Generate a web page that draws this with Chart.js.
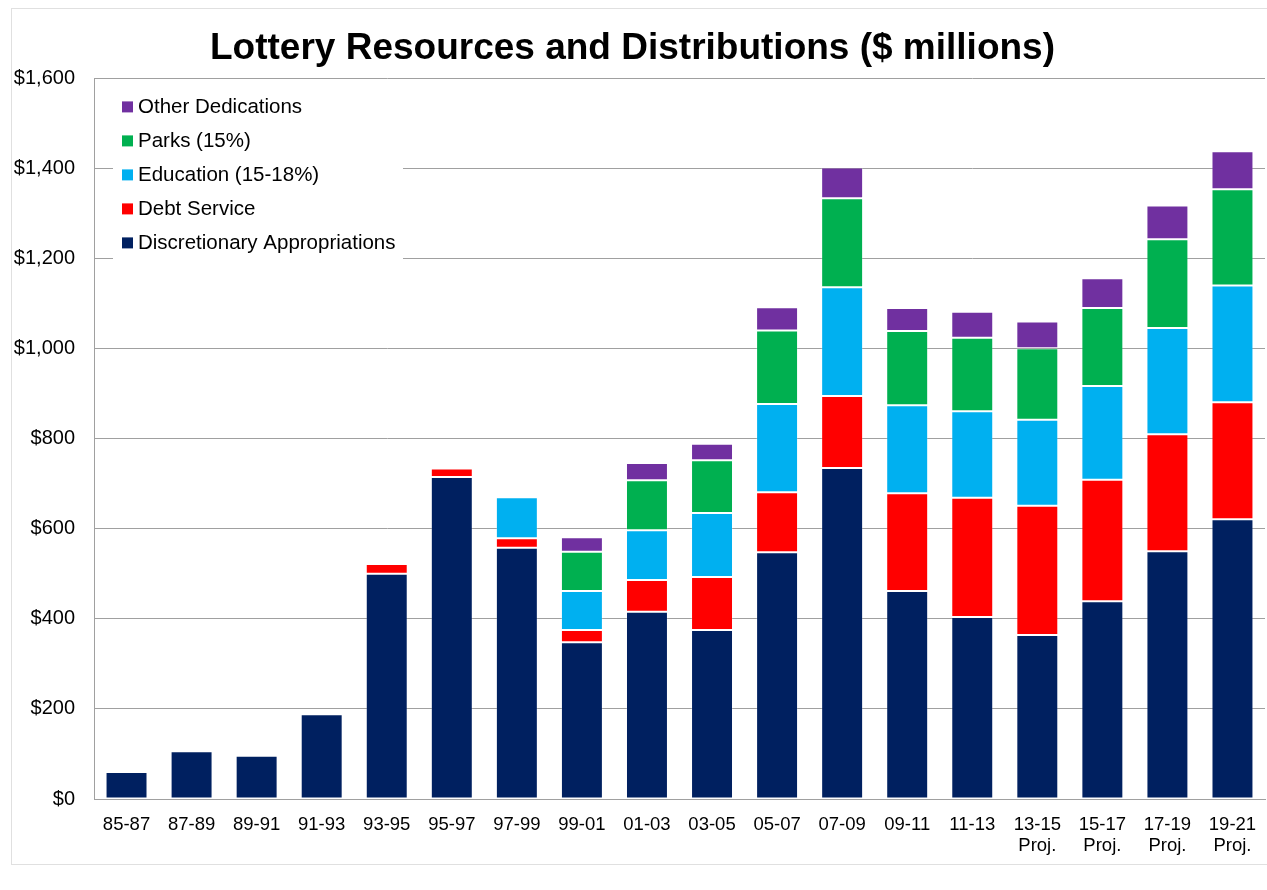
<!DOCTYPE html>
<html>
<head>
<meta charset="utf-8">
<title>Lottery Resources and Distributions</title>
<script src="https://cdn.jsdelivr.net/npm/chart.js@4.4.1/dist/chart.umd.min.js"></script>
<style>
  html, body { margin: 0; padding: 0; background: #fff; }
  #wrap { width: 1267px; height: 890px; position: relative; }
</style>
</head>
<body>
<div id="wrap"><canvas id="grafica" width="1267" height="890"></canvas></div>
<script>
// biennios (los "Proj." van en segunda linea)
const bienios = ['85-87', '87-89', '89-91', '91-93', '93-95', '95-97', '97-99', '99-01', '01-03', '03-05',
  '05-07', '07-09', '09-11', '11-13', ['13-15', 'Proj.'], ['15-17', 'Proj.'], ['17-19', 'Proj.'], ['19-21', 'Proj.']];

// valores en millones
const discrecional = [60, 106, 96, 188, 500, 715, 558, 348, 416, 375, 548, 735, 462, 404, 364, 439, 550, 621];
const deuda        = [0, 0, 0, 0, 22, 19, 21, 27, 70, 118, 133, 160, 217, 265, 287, 270, 260, 260];
const educacion    = [0, 0, 0, 0, 0, 0, 91, 87, 111, 142, 196, 241, 195, 192, 191, 208, 236, 259];
const parques      = [0, 0, 0, 0, 0, 0, 0, 87, 111, 117, 163, 198, 165, 163, 159, 173, 197, 214];
const otras        = [0, 0, 0, 0, 0, 0, 0, 32, 38, 37, 52, 68, 51, 58, 59, 66, 75, 84];

const ticksY = [0, 200, 400, 600, 800, 1000, 1200, 1400, 1600];

const fuente = '"Liberation Sans", Arial, sans-serif';

function serie(label, data, color) {
  return {
    label: label,
    data: data,
    backgroundColor: color,
    borderColor: 'rgba(255,255,255,0.18)',
    borderWidth: 1,
    borderSkipped: false,
    barPercentage: 0.645,
    categoryPercentage: 1.0
  };
}

// marco gris claro del grafico original
const marco = {
  id: 'marco',
  beforeDraw(chart) {
    const ctx = chart.ctx;
    ctx.save();
    ctx.fillStyle = '#fff';
    ctx.fillRect(0, 0, chart.width, chart.height);
    ctx.strokeStyle = '#e0e0e0';
    ctx.lineWidth = 1;
    ctx.strokeRect(11.5, 8.5, 1300, 856);
    ctx.restore();
  }
};

// leyenda dentro del area del grafico, arriba a la izquierda
const leyenda = {
  id: 'leyenda',
  afterDatasetsDraw(chart) {
    const ctx = chart.ctx;
    const area = chart.chartArea;
    const x0 = area.left + 19, y0 = area.top + 9;
    ctx.save();
    ctx.fillStyle = '#fff';
    ctx.fillRect(x0, y0, 290, 176);
    ctx.font = '20.5px ' + fuente;
    ctx.textBaseline = 'middle';
    const sets = chart.data.datasets.slice().reverse();
    sets.forEach((ds, i) => {
      const y = y0 + 19 + i * 34;
      ctx.fillStyle = ds.backgroundColor;
      ctx.fillRect(x0 + 9, y - 5, 11, 11);
      ctx.fillStyle = '#000';
      ctx.fillText(ds.label, x0 + 25, y + 1);
    });
    ctx.restore();
  }
};

const config = {
  type: 'bar',
  data: {
    labels: bienios,
    datasets: [
      serie('Discretionary Appropriations', discrecional, '#002060'),
      serie('Debt Service', deuda, '#ff0000'),
      serie('Education (15-18%)', educacion, '#00b0f0'),
      serie('Parks (15%)', parques, '#00b050'),
      serie('Other Dedications', otras, '#7030a0')
    ]
  },
  options: {
    responsive: false,
    animation: false,
    layout: { padding: { left: 0, right: 2, top: 0, bottom: 0 } },
    plugins: {
      legend: { display: false },
      tooltip: { enabled: false },
      title: {
        display: true,
        text: 'Lottery Resources and Distributions ($ millions)',
        color: '#000',
        font: { family: fuente, size: 37, weight: 'bold' },
        padding: { top: 27, bottom: 7 }
      }
    },
    scales: {
      x: {
        stacked: true,
        grid: { display: false, drawTicks: false },
        border: { color: '#a0a0a0', width: 1 },
        ticks: { color: '#000', font: { family: fuente, size: 18.5, lineHeight: 1.15 }, padding: 15, maxRotation: 0, autoSkip: false },
        afterFit(scale) {
          scale.height = 91;
          scale.paddingLeft = 0;
          scale.paddingRight = 0;
        }
      },
      y: {
        stacked: true,
        min: 0,
        max: 1600,
        afterBuildTicks(scale) { scale.ticks = ticksY.map(v => ({ value: v })); },
        grid: { color: '#a0a0a0', drawTicks: false },
        border: { color: '#a0a0a0', width: 1 },
        ticks: {
          color: '#000',
          font: { family: fuente, size: 20 },
          padding: 19,
          callback: v => '$' + v.toLocaleString('en-US')
        },
        afterFit(scale) { scale.width = 94; }
      }
    }
  },
  plugins: [marco, leyenda]
};

const grafica = new Chart(document.getElementById('grafica'), config);
</script>
</body>
</html>
